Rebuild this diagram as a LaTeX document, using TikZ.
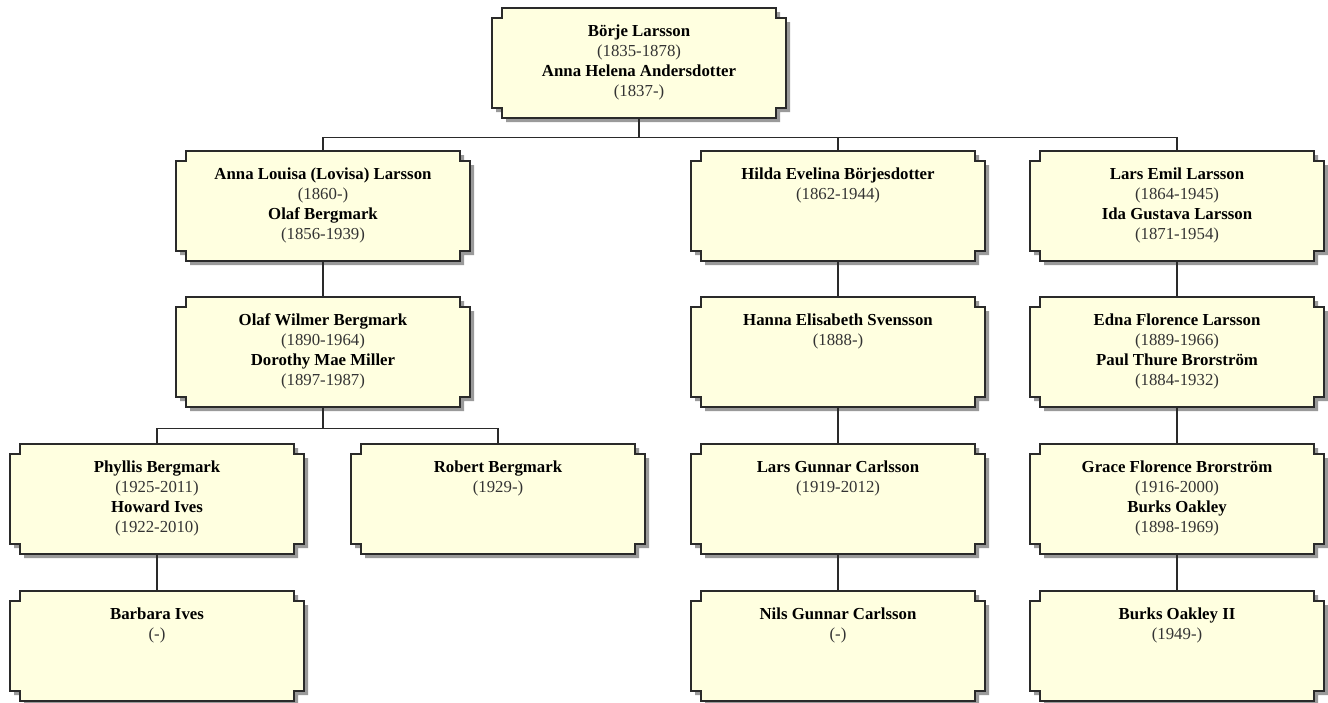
\documentclass[tikz,border=0pt]{standalone}
\usepackage{fontspec}
\setmainfont{Liberation Serif}
\definecolor{boxfill}{HTML}{FFFFE0}
\definecolor{boxline}{HTML}{2A2A2A}
\definecolor{shadowc}{HTML}{9A9A9A}
\definecolor{datec}{HTML}{333333}
\tikzset{
  boxarea/.style={minimum width=294pt, minimum height=110pt, inner sep=0pt, draw=none},
  famtext/.style={anchor=north, align=center, inner sep=0pt, font=\fontsize{16.8}{20}\selectfont, text=black},
  boxstyle/.style={fill=boxfill, draw=boxline, line width=1.4pt},
  shadowstyle/.style={fill=shadowc},
  conn/.style={draw=boxline, line width=1.4pt}
}
\newcommand\nm[1]{\textbf{#1}}
\newcommand\dt[1]{\textcolor{datec}{#1}}
\newcommand\fambox[4]{%
  \node[boxarea] (#1) at ({#2},{#3+55}) {};
  \begin{scope}[shift={({#2-147},{#3})}]
    \fill[shadowstyle, shift={(4,4)}] (10,0) -- (284,0) -- (284,10) -- (294,10) -- (294,100) -- (284,100) -- (284,110) -- (10,110) -- (10,100) -- (0,100) -- (0,10) -- (10,10) -- cycle;
    \filldraw[boxstyle] (10,0) -- (284,0) -- (284,10) -- (294,10) -- (294,100) -- (284,100) -- (284,110) -- (10,110) -- (10,100) -- (0,100) -- (0,10) -- (10,10) -- cycle;
  \end{scope}
  \node[famtext] (#1t) at ({#2},{#3+16.5}) {#4};
}
\begin{document}
\begin{tikzpicture}[x=1pt,y=-1pt]
\useasboundingbox (0,0) rectangle (1328,702);
% row 0
\fambox{top}{639}{8}{\nm{Börje Larsson}\\\dt{(1835-1878)}\\\nm{Anna Helena Andersdotter}\\\dt{(1837-)}}
% row 1
\fambox{anna}{323}{151}{\nm{Anna Louisa (Lovisa) Larsson}\\\dt{(1860-)}\\\nm{Olaf Bergmark}\\\dt{(1856-1939)}}
\fambox{hilda}{838}{151}{\nm{Hilda Evelina Börjesdotter}\\\dt{(1862-1944)}}
\fambox{lars}{1177}{151}{\nm{Lars Emil Larsson}\\\dt{(1864-1945)}\\\nm{Ida Gustava Larsson}\\\dt{(1871-1954)}}
% row 2
\fambox{olaf}{323}{297}{\nm{Olaf Wilmer Bergmark}\\\dt{(1890-1964)}\\\nm{Dorothy Mae Miller}\\\dt{(1897-1987)}}
\fambox{hanna}{838}{297}{\nm{Hanna Elisabeth Svensson}\\\dt{(1888-)}}
\fambox{edna}{1177}{297}{\nm{Edna Florence Larsson}\\\dt{(1889-1966)}\\\nm{Paul Thure Brorström}\\\dt{(1884-1932)}}
% row 3
\fambox{phyllis}{157}{444}{\nm{Phyllis Bergmark}\\\dt{(1925-2011)}\\\nm{Howard Ives}\\\dt{(1922-2010)}}
\fambox{robert}{498}{444}{\nm{Robert Bergmark}\\\dt{(1929-)}}
\fambox{gunnar}{838}{444}{\nm{Lars Gunnar Carlsson}\\\dt{(1919-2012)}}
\fambox{grace}{1177}{444}{\nm{Grace Florence Brorström}\\\dt{(1916-2000)}\\\nm{Burks Oakley}\\\dt{(1898-1969)}}
% row 4
\fambox{barbara}{157}{591}{\nm{Barbara Ives}\\\dt{(-)}}
\fambox{nils}{838}{591}{\nm{Nils Gunnar Carlsson}\\\dt{(-)}}
\fambox{burks}{1177}{591}{\nm{Burks Oakley II}\\\dt{(1949-)}}
% connectors
\draw[conn] (top.south) -- ++(0,19) -| (anna.north);
\draw[conn] (top.south) -- ++(0,19) -| (hilda.north);
\draw[conn] (top.south) -- ++(0,19) -| (lars.north);
\draw[conn] (anna.south) -- (olaf.north);
\draw[conn] (hilda.south) -- (hanna.north);
\draw[conn] (lars.south) -- (edna.north);
\draw[conn] (olaf.south) -- ++(0,21) -| (phyllis.north);
\draw[conn] (olaf.south) -- ++(0,21) -| (robert.north);
\draw[conn] (hanna.south) -- (gunnar.north);
\draw[conn] (edna.south) -- (grace.north);
\draw[conn] (phyllis.south) -- (barbara.north);
\draw[conn] (gunnar.south) -- (nils.north);
\draw[conn] (grace.south) -- (burks.north);
\end{tikzpicture}
\end{document}
